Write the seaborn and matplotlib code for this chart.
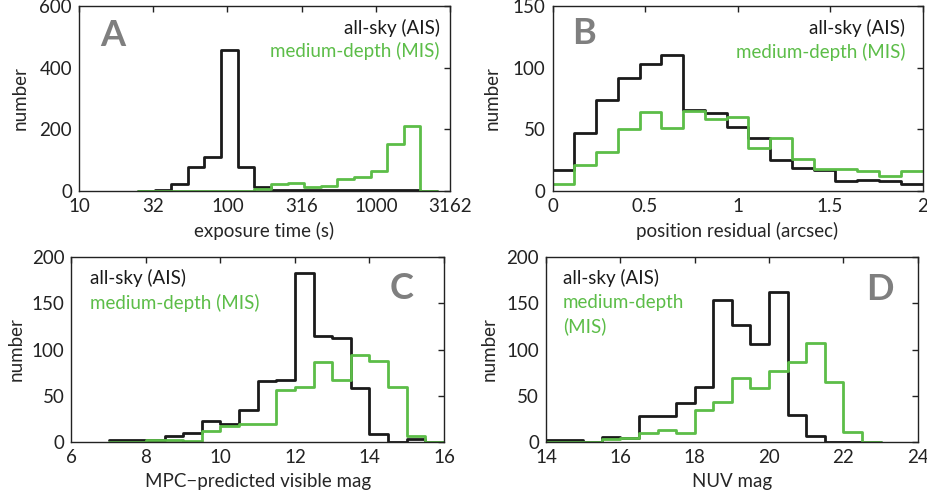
import numpy as np
import pandas as pd
import matplotlib
matplotlib.use("Agg")
import matplotlib.pyplot as plt
import seaborn as sns

# ---------------- data ----------------
# Panel A: exposure time (log-spaced bins starting at 25 s, 17 bins up to 2000 s + 1 empty bin)
a_lo, a_hi, a_nfull = np.log10(25), np.log10(2000), 17
a_nbins = a_nfull + 1
a_logrange = (a_lo, a_hi + (a_hi - a_lo) / a_nfull)
a_ais = [0, 3, 22, 78, 110, 458, 78, 13, 2, 2, 2, 2, 2, 2, 2, 2, 2, 0]
a_mis = [1, 1, 1, 1, 1, 1, 1, 8, 22, 27, 13, 17, 38, 45, 65, 151, 212, 0]

# Panel B: position residual (0..2 arcsec, 17 bins)
b_range = (0.0, 2.0)
b_nbins = 17
b_ais = [17, 47, 74, 92, 103, 110, 66, 63, 52, 43, 25, 19, 17, 8, 9, 8, 6]
b_mis = [6, 21, 32, 50, 64, 51, 65, 58, 60, 35, 43, 26, 18, 18, 16, 12, 16]

# Panel C: MPC-predicted visible mag (7..16, 0.5 mag bins)
c_range = (7.0, 16.0)
c_nbins = 18
c_ais = [2, 2, 2, 6, 10, 23, 20, 35, 66, 67, 183, 115, 112, 58, 9, 0, 3, 0]
c_mis = [0, 0, 2, 2, 1, 12, 17, 20, 19, 56, 60, 87, 67, 94, 88, 60, 7, 0]

# Panel D: NUV mag (14..23, 0.5 mag bins)
d_range = (14.0, 23.0)
d_nbins = 18
d_ais = [2, 2, 0, 5, 4, 28, 28, 42, 60, 154, 127, 106, 162, 29, 7, 0, 0, 0]
d_mis = [0, 0, 0, 3, 4, 10, 13, 10, 35, 43, 69, 58, 77, 87, 107, 65, 11, 0]

series_names = ["all-sky (AIS)", "medium-depth (MIS)"]

# ---------------- style ----------------
sns.set_style("white")
plt.rcParams["font.family"] = ["Lato", "DejaVu Sans"]
plt.rcParams["axes.unicode_minus"] = True

BLACK = "#1a1a1a"
GREEN = "#5cbd48"
GRAY = "#7f7f7f"
FS = 13.5

fig = plt.figure(figsize=(9.28, 4.99), dpi=100)
axA = fig.add_axes([0.0851, 0.6172, 0.3998, 0.3707])
axB = fig.add_axes([0.5954, 0.6172, 0.3987, 0.3707])
axC = fig.add_axes([0.0770, 0.1142, 0.4014, 0.3707])
axD = fig.add_axes([0.5884, 0.1142, 0.4005, 0.3707])


def centers(lo, hi, n):
    e = np.linspace(lo, hi, n + 1)
    return (e[:-1] + e[1:]) / 2


def draw(ax, xc, ais, mis, lo, hi, n, log=False):
    df = pd.DataFrame({"x": np.concatenate([xc, xc]),
                       "w": np.concatenate([ais, mis]).astype(float),
                       "s": [series_names[0]] * n + [series_names[1]] * n})
    for name, col in zip(series_names, [BLACK, GREEN]):
        sub = df[df["s"] == name]
        sns.histplot(data=sub, x="x", weights="w", bins=n, binrange=(lo, hi),
                     element="step", fill=False, color=col, linewidth=2.0,
                     log_scale=log, ax=ax)


def style(ax):
    ax.tick_params(direction="in", length=4, width=1, labelsize=FS,
                   top=True, right=True, pad=5, colors="#222222")
    for sp in ax.spines.values():
        sp.set_visible(True)
        sp.set_color("#222222")
        sp.set_linewidth(1.0)
    ax.set_ylabel("number", fontsize=FS)


# A
a_cent = 10 ** centers(a_logrange[0], a_logrange[1], a_nbins)
draw(axA, a_cent, a_ais, a_mis, a_logrange[0], a_logrange[1], a_nbins, log=True)
axA.set_xlim(10, 3162)
axA.set_ylim(0, 600)
axA.set_xticks([10, 31.6, 100, 316, 1000, 3162])
axA.set_xticklabels(["10", "32", "100", "316", "1000", "3162"])
axA.minorticks_off()
axA.set_yticks([0, 200, 400, 600])
axA.set_xlabel("exposure time (s)", fontsize=FS)
style(axA)

# B
draw(axB, centers(*b_range, b_nbins), b_ais, b_mis, *b_range, b_nbins)
axB.set_xlim(0, 2)
axB.set_ylim(0, 150)
axB.set_xticks([0, 0.5, 1, 1.5, 2])
axB.set_xticklabels(["0", "0.5", "1", "1.5", "2"])
axB.set_yticks([0, 50, 100, 150])
axB.set_xlabel("position residual (arcsec)", fontsize=FS)
style(axB)

# C
draw(axC, centers(*c_range, c_nbins), c_ais, c_mis, *c_range, c_nbins)
axC.set_xlim(6, 16)
axC.set_ylim(0, 200)
axC.set_xticks([6, 8, 10, 12, 14, 16])
axC.set_yticks([0, 50, 100, 150, 200])
axC.set_xlabel("MPC\u2212predicted visible mag", fontsize=FS)
style(axC)

# D
draw(axD, centers(*d_range, d_nbins), d_ais, d_mis, *d_range, d_nbins)
axD.set_xlim(14, 24)
axD.set_ylim(0, 200)
axD.set_xticks([14, 16, 18, 20, 22, 24])
axD.set_yticks([0, 50, 100, 150, 200])
axD.set_xlabel("NUV mag", fontsize=FS)
style(axD)

for ax in (axA, axB, axC, axD):
    ax.xaxis.set_label_coords(0.5, -0.165)

axA.yaxis.set_label_coords(-0.135, 0.5)
axB.yaxis.set_label_coords(-0.14, 0.5)
axC.yaxis.set_label_coords(-0.125, 0.5)
axD.yaxis.set_label_coords(-0.13, 0.5)

# legends as text
axA.text(0.973, 0.884, series_names[0], color=BLACK, fontsize=FS, ha="right", va="center", transform=axA.transAxes)
axA.text(0.973, 0.758, series_names[1], color=GREEN, fontsize=FS, ha="right", va="center", transform=axA.transAxes)
axA.text(0.058, 0.843, "A", color=GRAY, fontsize=26, fontweight="bold", ha="left", va="center", transform=axA.transAxes)

axB.text(0.953, 0.884, series_names[0], color=BLACK, fontsize=FS, ha="right", va="center", transform=axB.transAxes)
axB.text(0.953, 0.753, series_names[1], color=GREEN, fontsize=FS, ha="right", va="center", transform=axB.transAxes)
axB.text(0.052, 0.849, "B", color=GRAY, fontsize=26, fontweight="bold", ha="left", va="center", transform=axB.transAxes)

axC.text(0.05, 0.885, series_names[0], color=BLACK, fontsize=FS, ha="left", va="center", transform=axC.transAxes)
axC.text(0.05, 0.754, series_names[1], color=GREEN, fontsize=FS, ha="left", va="center", transform=axC.transAxes)
axC.text(0.917, 0.831, "C", color=GRAY, fontsize=26, fontweight="bold", ha="right", va="center", transform=axC.transAxes)

axD.text(0.045, 0.885, series_names[0], color=BLACK, fontsize=FS, ha="left", va="center", transform=axD.transAxes)
axD.text(0.045, 0.754, "medium-depth", color=GREEN, fontsize=FS, ha="left", va="center", transform=axD.transAxes)
axD.text(0.045, 0.628, "(MIS)", color=GREEN, fontsize=FS, ha="left", va="center", transform=axD.transAxes)
axD.text(0.934, 0.827, "D", color=GRAY, fontsize=26, fontweight="bold", ha="right", va="center", transform=axD.transAxes)

fig.savefig("out.png", dpi=100)
